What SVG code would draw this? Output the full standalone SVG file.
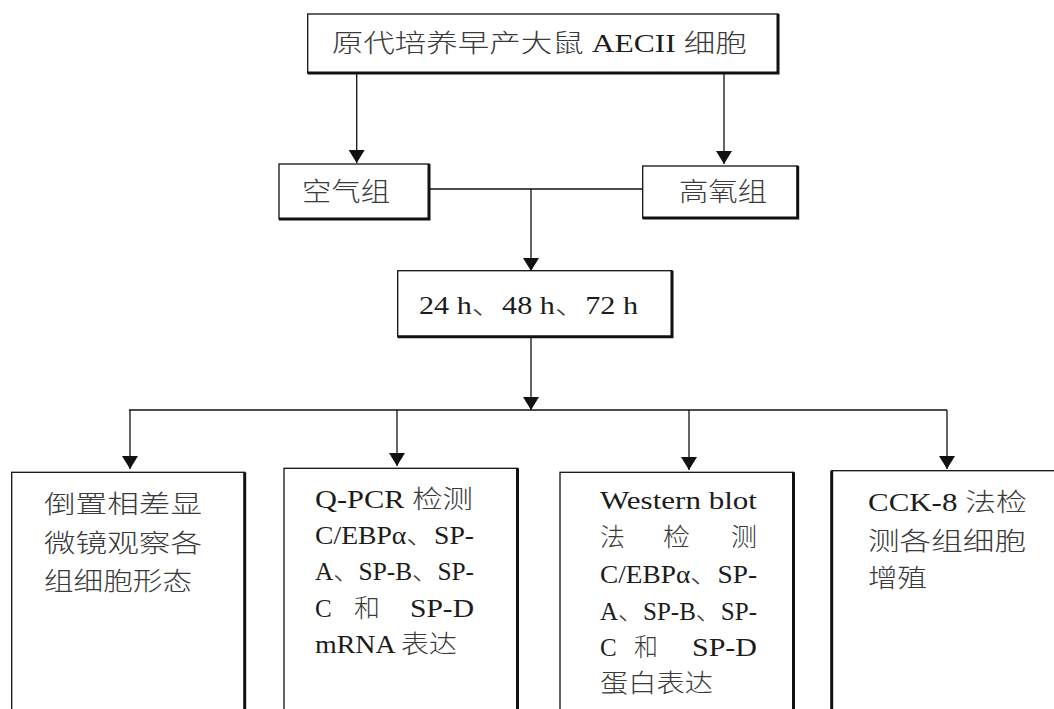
<svg xmlns="http://www.w3.org/2000/svg" width="1054" height="709" viewBox="0 0 1054 709">
<defs>
<style>
.box{fill:#fff;stroke:#111;stroke-width:1.3}
.sh{fill:none;stroke:#111;stroke-width:3}
.ln{fill:none;stroke:#111;stroke-width:1.3}
.t{font-family:'Liberation Serif','Noto Sans CJK SC',serif;fill:#1c1c1c}
.c{font-family:'Noto Sans CJK SC',sans-serif;fill:#3a3a3a;font-weight:300}
</style>
<marker id="ah" viewBox="0 0 13 16" refX="13" refY="8" markerWidth="13" markerHeight="16" markerUnits="userSpaceOnUse" orient="auto">
<path d="M0,0 L13,8 L0,16 z" fill="#111"/>
</marker>
</defs>
<rect width="1054" height="709" fill="#fff"/>

<g id="connectors">
<line class="ln" x1="356.7" y1="73" x2="356.7" y2="163" marker-end="url(#ah)"/>
<line class="ln" x1="724" y1="73" x2="724" y2="164" marker-end="url(#ah)"/>
<line class="ln" x1="429" y1="189" x2="642.7" y2="189"/>
<line class="ln" x1="531" y1="189" x2="531" y2="271" marker-end="url(#ah)"/>
<line class="ln" x1="531" y1="336.7" x2="531" y2="410" marker-end="url(#ah)"/>
<line class="ln" x1="129" y1="410" x2="947" y2="410"/>
<line class="ln" x1="130" y1="410" x2="130" y2="469" marker-end="url(#ah)"/>
<line class="ln" x1="397" y1="410" x2="397" y2="466" marker-end="url(#ah)"/>
<line class="ln" x1="689" y1="410" x2="689" y2="470" marker-end="url(#ah)"/>
<line class="ln" x1="947" y1="410" x2="947" y2="469" marker-end="url(#ah)"/>
</g>

<g id="node-source">
<rect class="box" x="307.7" y="14" width="470.3" height="59"/>
<path class="sh" d="M778,14 V73 H307.7"/>
<text class="t" x="331.7" y="51.5" font-size="25" textLength="415" lengthAdjust="spacingAndGlyphs"><tspan class="c">原代培养早产大鼠</tspan> AECII <tspan class="c">细胞</tspan></text>
</g>

<g id="node-air">
<rect class="box" x="279" y="164" width="150" height="55"/>
<path class="sh" d="M429,164 V219 H279"/>
<text class="c" x="302" y="201" font-size="26" textLength="88" lengthAdjust="spacingAndGlyphs">空气组</text>
</g>

<g id="node-oxygen">
<rect class="box" x="642.7" y="166" width="155" height="52"/>
<path class="sh" d="M797.7,166 V218 H642.7"/>
<text class="c" x="679" y="201" font-size="26" textLength="88" lengthAdjust="spacingAndGlyphs">高氧组</text>
</g>

<g id="node-time">
<rect class="box" x="397.7" y="270.7" width="274.3" height="66"/>
<path class="sh" d="M672,270.7 V336.7 H397.7"/>
<text class="t" x="419" y="314" font-size="26" textLength="219" lengthAdjust="spacingAndGlyphs">24 h<tspan class="c">、</tspan>48 h<tspan class="c">、</tspan>72 h</text>
</g>

<g id="node-morphology">
<rect class="box" x="11.7" y="472.3" width="233" height="250"/>
<path class="sh" d="M244.7,472.3 V722"/>
<text class="c" x="44" y="513" font-size="25" textLength="158" lengthAdjust="spacingAndGlyphs">倒置相差显</text>
<text class="c" x="44" y="552" font-size="25" textLength="158" lengthAdjust="spacingAndGlyphs">微镜观察各</text>
<text class="c" x="44" y="590" font-size="25" textLength="148" lengthAdjust="spacingAndGlyphs">组细胞形态</text>
</g>

<g id="node-qpcr">
<rect class="box" x="284" y="468.3" width="233.5" height="250"/>
<path class="sh" d="M517.5,468.3 V722"/>
<text class="t" x="315" y="508" font-size="25" textLength="158" lengthAdjust="spacingAndGlyphs">Q-PCR <tspan class="c">检测</tspan></text>
<text class="t" x="315" y="544" font-size="25" textLength="159" lengthAdjust="spacingAndGlyphs">C/EBPα<tspan class="c">、</tspan>SP-</text>
<text class="t" x="315" y="580" font-size="25" textLength="159" lengthAdjust="spacingAndGlyphs">A<tspan class="c">、</tspan>SP-B<tspan class="c">、</tspan>SP-</text>
<text class="t" y="617" font-size="25"><tspan x="315">C</tspan><tspan class="c" x="354" textLength="26" lengthAdjust="spacingAndGlyphs">和</tspan><tspan x="410" textLength="64" lengthAdjust="spacingAndGlyphs">SP-D</tspan></text>
<text class="t" x="315" y="653" font-size="25" textLength="142" lengthAdjust="spacingAndGlyphs">mRNA <tspan class="c">表达</tspan></text>
</g>

<g id="node-western">
<rect class="box" x="560" y="472.3" width="233.5" height="250"/>
<path class="sh" d="M793.5,472.3 V722"/>
<text class="t" x="600" y="509" font-size="25" textLength="157" lengthAdjust="spacingAndGlyphs">Western blot</text>
<text class="c" y="546" font-size="25"><tspan x="600" textLength="25" lengthAdjust="spacingAndGlyphs">法</tspan><tspan x="663" textLength="27" lengthAdjust="spacingAndGlyphs">检</tspan><tspan x="731" textLength="26" lengthAdjust="spacingAndGlyphs">测</tspan></text>
<text class="t" x="600" y="583" font-size="25" textLength="157" lengthAdjust="spacingAndGlyphs">C/EBPα<tspan class="c">、</tspan>SP-</text>
<text class="t" x="600" y="620" font-size="25" textLength="157" lengthAdjust="spacingAndGlyphs">A<tspan class="c">、</tspan>SP-B<tspan class="c">、</tspan>SP-</text>
<text class="t" y="656" font-size="25"><tspan x="600">C</tspan><tspan class="c" x="634" textLength="24" lengthAdjust="spacingAndGlyphs">和</tspan><tspan x="692" textLength="65" lengthAdjust="spacingAndGlyphs">SP-D</tspan></text>
<text class="c" x="600" y="692" font-size="25" textLength="113" lengthAdjust="spacingAndGlyphs">蛋白表达</text>
</g>

<g id="node-cck8">
<rect class="box" x="831.7" y="470.7" width="240" height="250"/>
<path class="sh" d="M831.7,470.7 V722" stroke-width="2"/>
<text class="t" x="868" y="511" font-size="25" textLength="159" lengthAdjust="spacingAndGlyphs">CCK-8 <tspan class="c">法检</tspan></text>
<text class="c" x="868" y="550" font-size="25" textLength="158" lengthAdjust="spacingAndGlyphs">测各组细胞</text>
<text class="c" x="868" y="587" font-size="25" textLength="59" lengthAdjust="spacingAndGlyphs">增殖</text>
</g>
</svg>
